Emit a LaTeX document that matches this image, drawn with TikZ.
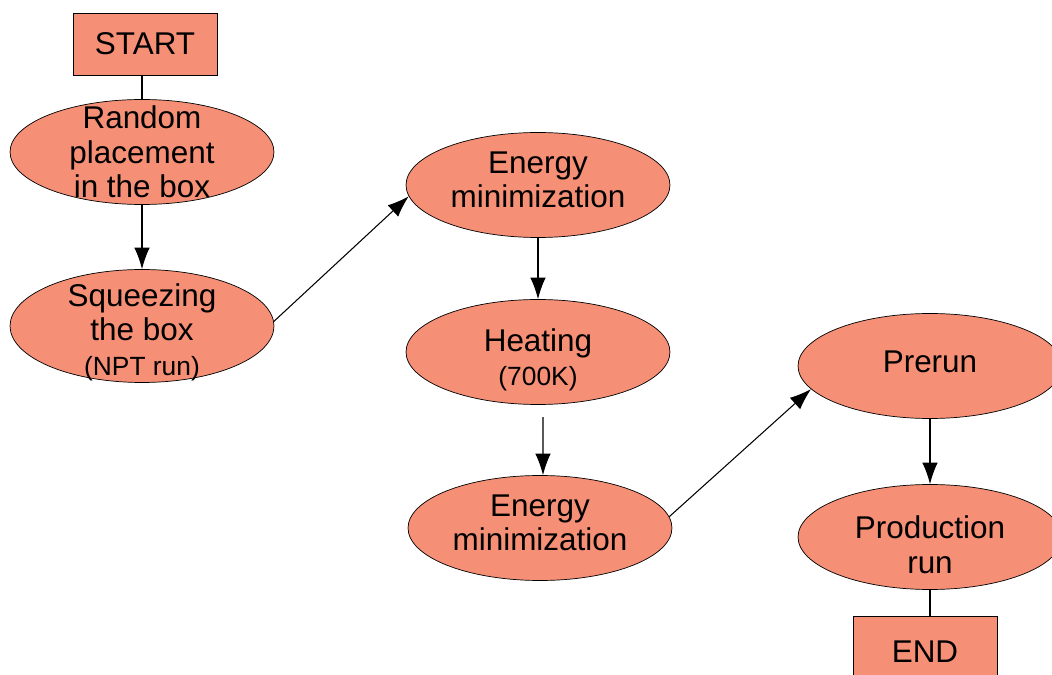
\documentclass[tikz,border=0pt]{standalone}
\usepackage{fontspec}
\setmainfont{Liberation Sans}
\usepackage{tikz}
\usetikzlibrary{shapes.geometric}
\usetikzlibrary{arrows.meta}
\definecolor{salmon}{RGB}{245,143,118}
\newcommand{\smalltxt}[1]{{\fontsize{15}{16}\selectfont #1}}

\begin{document}
\begin{tikzpicture}
      [x=0.02cm,y=-0.02cm,
      every node/.style={align=center,font=\fontsize{17.9}{19.7}\selectfont},
      stage/.style={shape=ellipse,draw,fill=salmon,minimum width=5.28cm,minimum height=2.1cm,inner sep=0pt},
      term/.style={shape=rectangle,draw,fill=salmon,minimum width=2.88cm,minimum height=1.24cm},
      flow/.style={-{Latex[length=0.43cm,width=0.31cm]},line width=0.6pt}]
\useasboundingbox (0,0) rectangle (1052,675);

% boxes and stages
\node[term] (start) at (145,44) {START};
\node[stage] (rand) at (142,152) {};
\node (randtxt) at (142,152) {Random\\placement\\in the box};
\node[stage,minimum height=2.26cm] (squeeze) at (142,326) {};
\node (squeezetxt) at (142,332) {Squeezing\\the box\\\smalltxt{(NPT run)}};
\node[stage] (emin) at (538,185) {};
\node (emintxt) at (538,180) {Energy\\minimization};
\node[stage] (heat) at (538,352) {};
\node (heattxt) at (538,360) {Heating\\\smalltxt{(700K)}};
\node[stage] (emintwo) at (540,528) {};
\node (emintwotxt) at (540,523) {Energy\\minimization};
\node[stage] (prerun) at (930,366) {};
\node (preruntxt) at (930,362) {Prerun};
\node[stage] (prod) at (930,537) {};
\node (prodtxt) at (930,545) {Production\\run};
\node[term,minimum height=1.44cm] (end) at (925,652) {END};

% connectors
\draw[line width=0.6pt] (start.south -| rand.north) -- (rand.north);
\draw[flow] (rand.south) -- (squeeze.north);
\draw[flow] (squeeze.2) -- (emin.185);
\draw[flow] (emin.south) -- (heat.north);
\draw[flow,shorten <=7pt] ([xshift=0.1cm]heat.south) -- ([xshift=0.06cm]emintwo.north);
\draw[flow] (emintwo.5) -- (prerun.191);
\draw[flow] (prerun.south) -- (prod.north);
\draw[line width=0.6pt] (prod.south) -- (prod.south |- end.north);
\end{tikzpicture}
\end{document}
